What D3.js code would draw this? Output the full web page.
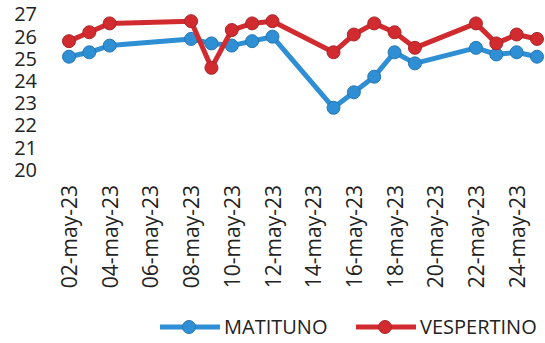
<!DOCTYPE html>
<html>
<head>
<meta charset="utf-8">
<script src="https://cdn.jsdelivr.net/npm/d3@7"></script>
<style>
  body { margin: 0; background: #fff; }
  svg text { font-family: "Open Sans", sans-serif; fill: #222; }
  .axis path, .axis line { display: none; }
</style>
</head>
<body>
<div class="chart"></div>
<script>
// Data
const dates = ["2023-05-02", "2023-05-03", "2023-05-04", "2023-05-08", "2023-05-09", "2023-05-10",
    "2023-05-11", "2023-05-12", "2023-05-15", "2023-05-16", "2023-05-17", "2023-05-18",
    "2023-05-19", "2023-05-22", "2023-05-23", "2023-05-24", "2023-05-25"];
const matituno = [25.1, 25.3, 25.6, 25.9, 25.7, 25.6, 25.8, 26.0, 22.8, 23.5, 24.2, 25.3,
    24.8, 25.5, 25.2, 25.3, 25.1];
const vespertino = [25.8, 26.2, 26.6, 26.7, 24.6, 26.3, 26.6, 26.7, 25.3, 26.1, 26.6, 26.2,
    25.5, 26.6, 25.7, 26.1, 25.9];
const tickDates = ["2023-05-02", "2023-05-04", "2023-05-06", "2023-05-08", "2023-05-10", "2023-05-12",
    "2023-05-14", "2023-05-16", "2023-05-18", "2023-05-20", "2023-05-22", "2023-05-24"];
const yTicks = [20, 21, 22, 23, 24, 25, 26, 27];
const seriesNames = ["MATITUNO", "VESPERTINO"];

const width = 545;
const height = 343;
const colors = ["#2f8fd4", "#d22b2f"];
const strokes = ["#2777b3", "#a8262a"];

const parse = d3.timeParse("%Y-%m-%d");
const fmt = d => d3.timeFormat("%d")(d) + "-may-" + d3.timeFormat("%y")(d);

let svg = d3.select(".chart").append("svg")
    .attr("width", width)
    .attr("height", height);

let xScale = d3.scaleTime()
    .domain([parse("2023-05-02"), parse("2023-05-25")])
    .range([69, 537]);

let yScale = d3.scaleLinear()
    .domain([20, 27])
    .range([170, 14.5]);

// y axis: labels only
svg.append("g")
    .attr("class", "axis")
    .attr("transform", "translate(44,0)")
    .call(d3.axisLeft(yScale).tickValues(yTicks).tickFormat(d3.format("d")).tickSize(0).tickPadding(7))
    .selectAll("text")
    .style("font-size", "20px")
    .style("font-family", "'Open Sans', sans-serif")
    .attr("fill", "#222");

// x axis: rotated date labels
let xAxis = svg.append("g")
    .attr("class", "axis")
    .attr("transform", "translate(0,185)")
    .call(d3.axisBottom(xScale).tickValues(tickDates.map(parse)).tickFormat(fmt).tickSize(0).tickPadding(0));
xAxis.selectAll("text")
    .style("font-size", "21px")
    .style("font-family", "'Open Sans', sans-serif")
    .attr("fill", "#222")
    .attr("text-anchor", "end")
    .attr("transform", "rotate(-90)")
    .attr("x", 0)
    .attr("y", 0)
    .attr("dy", "0.36em");

// series
const allSeries = [matituno, vespertino];
let line = d3.line()
    .x(d => xScale(d.date))
    .y(d => yScale(d.value));

allSeries.forEach((values, i) => {
    let pts = values.map((v, j) => ({ date: parse(dates[j]), value: v }));
    svg.append("path")
        .datum(pts)
        .attr("fill", "none")
        .attr("stroke", colors[i])
        .attr("stroke-width", 5)
        .attr("stroke-linejoin", "round")
        .attr("d", line);
    svg.selectAll(".pt" + i)
        .data(pts)
        .enter()
        .append("circle")
        .attr("class", "pt" + i)
        .attr("cx", d => xScale(d.date))
        .attr("cy", d => yScale(d.value))
        .attr("r", 6.5)
        .attr("fill", colors[i])
        .attr("stroke", strokes[i])
        .attr("stroke-width", 1);
});

// legend
const legendX = [160, 356];
seriesNames.forEach((name, i) => {
    let g = svg.append("g").attr("transform", "translate(" + legendX[i] + ",327)");
    g.append("line")
        .attr("x1", 0).attr("x2", 60)
        .attr("stroke", colors[i])
        .attr("stroke-width", 5);
    g.append("circle")
        .attr("cx", 29).attr("r", 6.5)
        .attr("fill", colors[i])
        .attr("stroke", strokes[i]);
    g.append("text")
        .attr("x", 64)
        .attr("dy", "0.36em")
        .style("font-size", "20px")
        .text(name);
});
</script>
</body>
</html>
